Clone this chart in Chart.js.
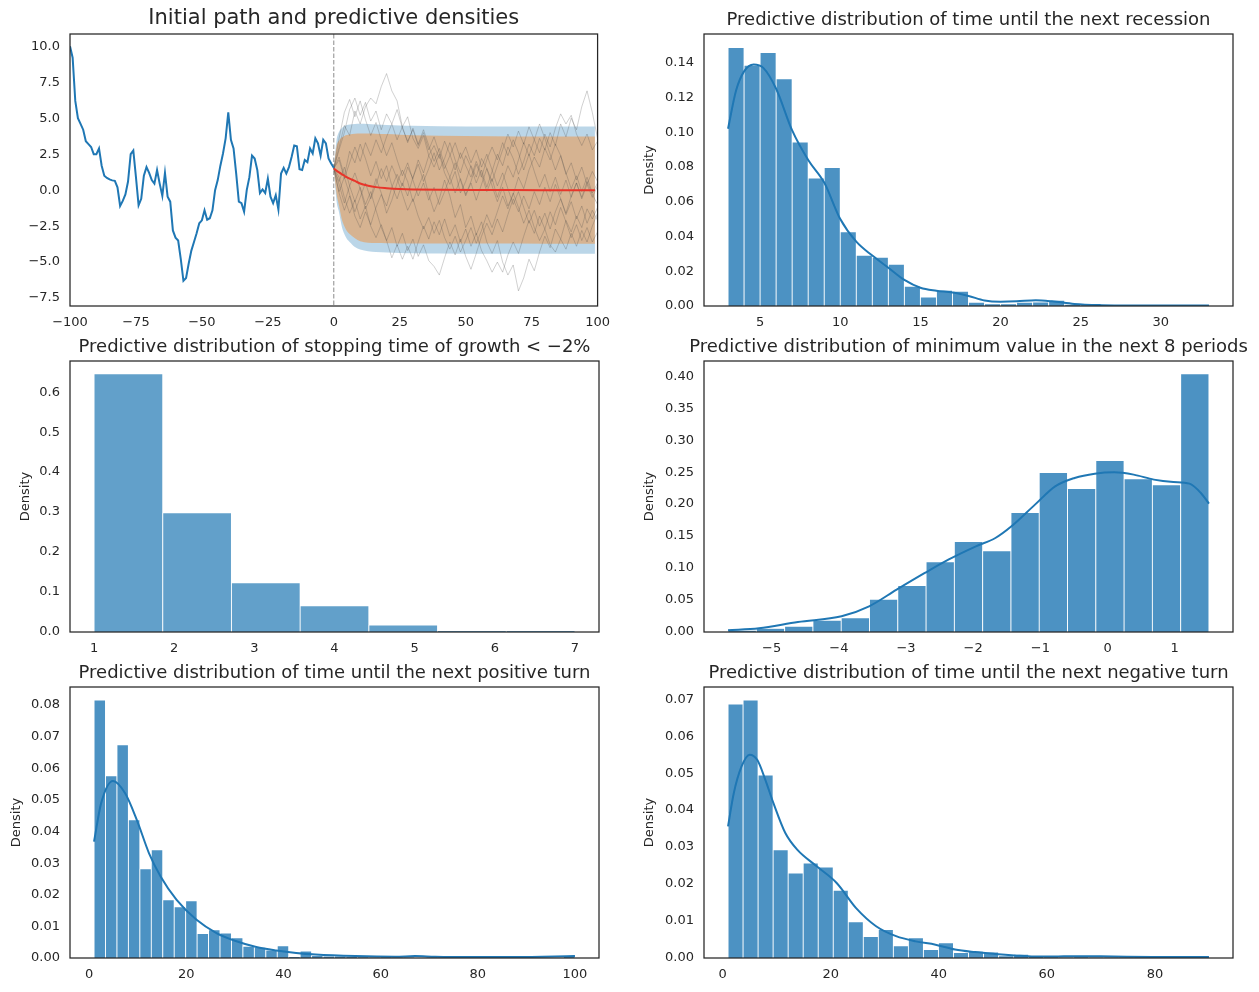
<!DOCTYPE html>
<html lang="en">

<head>
    <meta charset="UTF-8">
    <title>Predictive distributions</title>
    <script src="https://cdn.jsdelivr.net/npm/chart.js"></script>
    <style>
        body {
            margin: 0;
            background: #ffffff;
        }

        .panel {
            position: absolute;
        }
    </style>
</head>

<body>
    <div class="panel" style="left:0px; top:6px; width:619px; height:330px"><canvas id="pathChart"></canvas></div>
    <div class="panel" style="left:620px; top:8px; width:633px; height:328px"><canvas id="recessionChart"></canvas></div>
    <div class="panel" style="left:0px; top:335px; width:619px; height:327px"><canvas id="stoppingChart"></canvas></div>
    <div class="panel" style="left:620px; top:335px; width:633px; height:327px"><canvas id="minimumChart"></canvas></div>
    <div class="panel" style="left:0px; top:661px; width:619px; height:327px"><canvas id="positiveChart"></canvas></div>
    <div class="panel" style="left:620px; top:661px; width:633px; height:327px"><canvas id="negativeChart"></canvas></div>

    <script>
        // ---- initial path (t = -100 .. 0) ----
        const pathTimes = [-100, -99, -98, -97, -96, -95, -94, -93, -92, -91, -90, -89, -88, -87, -86, -85, -84, -83, -82, -81,
            -80, -79, -78, -77, -76, -75, -74, -73, -72, -71, -70, -69, -68, -67, -66, -65, -64, -63, -62, -61,
            -60, -59, -58, -57, -56, -55, -54, -53, -52, -51, -50, -49, -48, -47, -46, -45, -44, -43, -42, -41,
            -40, -39, -38, -37, -36, -35, -34, -33, -32, -31, -30, -29, -28, -27, -26, -25, -24, -23, -22, -21,
            -20, -19, -18, -17, -16, -15, -14, -13, -12, -11, -10, -9, -8, -7, -6, -5, -4, -3, -2, -1, 0];
        const pathValues = [10.0, 9.2, 6.2, 5.0, 4.6, 4.2, 3.4, 3.2, 3.0, 2.5, 2.5, 2.9, 1.7, 1.0, 0.85, 0.75, 0.68, 0.65, 0.2, -1.1,
            -0.75, -0.3, 0.6, 2.5, 2.75, 0.9, -1.05, -0.6, 1.0, 1.6, 1.2, 0.7, 0.45, 1.4, 0.45, -0.4, 1.2, -0.45, -0.8, -2.8,
            -3.3, -3.5, -4.8, -6.3, -6.1, -5.1, -4.2, -3.6, -3.0, -2.3, -2.1, -1.4, -2.05, -1.95, -1.4, 0.0, 0.7, 1.7, 2.55, 3.6,
            5.4, 3.5, 2.9, 1.15, -0.8, -0.9, -1.5, 0.0, 0.9, 2.4, 2.2, 1.4, -0.2, 0.05, -0.2, 0.8, -0.45, -0.9, -0.35, -1.35,
            1.15, 1.55, 1.15, 1.6, 2.3, 3.1, 3.05, 1.45, 1.4, 2.1, 1.95, 2.9, 2.55, 3.6, 3.25, 2.4, 3.5, 3.25, 2.2, 1.85, 1.55];

        // ---- forecast mean and bands ----
        const bandTimes = [0, 1, 2, 3, 4, 5, 6, 8, 10, 13, 16, 20, 25, 30, 40, 60, 80, 99];
        const meanValues = [1.5, 1.36, 1.23, 1.11, 1.0, 0.89, 0.8, 0.64, 0.46, 0.31, 0.21, 0.14, 0.08, 0.05, 0.02, 0.01, 0.0, 0.0];
        const outerHigh = [1.5, 3.4, 4.05, 4.3, 4.45, 4.52, 4.56, 4.6, 4.62, 4.6, 4.57, 4.53, 4.5, 4.47, 4.44, 4.42, 4.42, 4.42];
        const outerLow = [1.5, -0.7, -1.55, -2.5, -3.05, -3.4, -3.6, -3.95, -4.12, -4.25, -4.3, -4.33, -4.36, -4.38, -4.4, -4.42, -4.42, -4.42];
        const innerHigh = [1.5, 3.0, 3.45, 3.65, 3.77, 3.83, 3.87, 3.92, 3.94, 3.94, 3.92, 3.9, 3.85, 3.82, 3.78, 3.74, 3.72, 3.72];
        const innerLow = [1.5, -0.2, -1.1, -2.0, -2.5, -2.85, -3.05, -3.35, -3.55, -3.65, -3.68, -3.69, -3.7, -3.7, -3.7, -3.71, -3.72, -3.72];

        // ---- simulated paths (every 2 periods) ----
        const simTimes = [0, 2, 4, 6, 8, 10, 12, 14, 16, 18, 20, 22, 24, 26, 28, 30, 32, 34, 36, 38, 40, 42, 44, 46, 48, 50,
            52, 54, 56, 58, 60, 62, 64, 66, 68, 70, 72, 74, 76, 78, 80, 82, 84, 86, 88, 90, 92, 94, 96, 98, 100];
        const simPath1 = [1.5, 3.0, 4.5, 3.8, 5.5, 4.6, 5.8, 6.4, 6.0, 7.2, 8.1, 6.9, 6.2, 4.4, 5.1, 3.6, 2.9, 3.8, 2.4, 1.6, 2.5, 1.2, 0.4, 1.3, -0.2, 0.6,
            1.7, 0.9, 2.2, 1.5, 0.3, -0.8, 0.2, -1.1, -0.3, 0.9, 0.1, 1.4, 2.3, 1.6, 2.9, 2.1, 3.2, 2.4, 1.1, 1.9, 0.7, 1.6, 0.4, -0.5, 0.3];
        const simPath2 = [1.5, 0.4, -0.9, 0.3, 1.2, 0.1, -1.3, -0.5, 0.8, -0.2, -1.6, -0.7, 0.5, 1.4, 0.6, -0.8, 0.2, 1.1, -0.3, -1.5, -0.6, 0.7, -0.4, -1.9, -1.0, -2.6,
            -1.8, -3.1, -2.2, -3.6, -4.4, -3.5, -5.0, -5.9, -5.2, -7.0, -6.1, -4.8, -5.6, -4.3, -3.2, -4.0, -2.7, -3.4, -2.1, -2.9, -1.8, -2.6, -1.3, -2.0, -1.2];
        const simPath3 = [1.5, 2.3, 1.0, 2.7, 1.9, 3.2, 2.2, 1.0, 2.0, 0.8, 1.7, 0.3, -0.6, 0.5, -0.4, 0.9, 1.8, 0.6, 1.5, 2.6, 1.4, 2.2, 3.3, 2.1, 1.2, 2.4,
            1.6, 0.5, 1.4, 0.2, 1.3, 2.5, 1.7, 3.0, 2.2, 1.1, 2.0, 3.2, 2.4, 3.6, 2.8, 4.0, 3.1, 4.6, 3.7, 5.0, 4.2, 5.8, 6.9, 5.4, 3.6];
        const simPath4 = [1.5, -0.2, -1.4, -0.4, -1.8, -2.6, -1.5, -2.4, -1.2, -0.3, -1.1, 0.2, 1.1, 0.3, 1.6, 0.8, 2.1, 1.2, 2.4, 3.1, 2.2, 3.4, 2.5, 1.4, 2.6, 1.7,
            0.9, 2.0, 1.1, -0.1, 0.8, -0.5, 0.6, 1.7, 0.9, 2.1, 3.3, 2.4, 3.5, 2.6, 3.9, 3.0, 4.3, 5.3, 4.6, 5.2, 3.9, 3.1, 3.9, 2.8, 3.4];
        const simPath5 = [1.5, 0.9, -0.5, -1.6, -0.7, -2.0, -1.1, -2.5, -3.3, -2.4, -3.5, -2.6, -3.9, -3.0, -4.2, -3.4, -4.6, -3.8, -4.9, -5.3, -5.9, -4.7, -3.6, -4.5, -3.4, -4.6,
            -5.5, -4.4, -3.2, -2.3, -3.1, -2.0, -2.9, -1.7, -0.6, -1.5, -0.4, -1.3, -0.1, -1.0, 0.2, -0.8, 0.4, -0.6, -1.7, -0.8, -2.0, -1.1, -2.3, -1.4, -2.1];
        const simPath6 = [1.5, 3.6, 5.4, 6.3, 5.1, 6.2, 4.9, 3.8, 4.7, 3.5, 2.4, 3.3, 2.1, 1.0, 1.9, 0.7, -0.4, 0.5, -0.7, 0.2, -1.0, -0.1, 0.9, -0.2, 0.8, -0.3,
            0.6, 1.8, 0.9, 2.1, 3.0, 2.1, 3.3, 2.4, 3.5, 2.6, 1.4, 2.5, 1.3, 0.2, 1.1, -0.1, 0.9, -0.3, 0.7, -0.5, 0.5, -0.6, 0.4, 1.3, 0.6];
        const simPath7 = [1.5, 0.6, 1.6, 0.3, -0.8, 0.2, -1.0, -0.1, -1.4, -2.6, -3.5, -4.7, -3.8, -4.8, -3.9, -4.8, -3.6, -2.5, -3.4, -2.2, -3.1, -2.0, -3.2, -2.4, -3.6, -2.7,
            -3.9, -3.0, -4.2, -4.9, -5.7, -5.0, -5.7, -4.5, -3.6, -4.4, -3.2, -2.1, -3.0, -1.8, -2.7, -1.5, -2.4, -1.2, -2.2, -3.3, -2.4, -3.5, -2.6, -3.6, -2.9];
        const simPath8 = [1.5, 2.8, 4.0, 5.6, 6.4, 5.2, 6.1, 4.8, 5.5, 4.2, 5.3, 4.6, 5.6, 4.3, 3.4, 4.2, 3.1, 4.0, 2.8, 3.7, 2.6, 1.5, 2.4, 3.3, 2.2, 3.0,
            1.9, 2.8, 1.6, 2.5, 1.4, 0.3, 1.2, 0.1, -1.0, -0.1, -1.2, -2.3, -1.4, -2.5, -1.6, -2.7, -1.5, -0.6, -1.6, -0.4, 0.5, -0.5, 0.6, -0.3, -1.0];
        const simPath9 = [1.5, -0.1, 0.9, -0.3, -1.5, -0.5, 0.5, -0.6, 0.4, 1.5, 0.6, 1.7, 0.8, -0.3, -1.4, -0.6, -1.8, -2.7, -1.9, -3.0, -2.1, -3.3, -4.1, -3.2, -4.3, -3.5,
            -2.6, -3.7, -2.8, -1.7, -2.6, -1.5, -0.4, -1.3, -0.2, -1.2, -2.3, -1.4, -2.6, -3.5, -2.7, -3.8, -4.3, -3.4, -4.1, -3.0, -3.9, -2.8, -3.6, -2.5, -1.6];
        const simPath10 = [1.5, 2.1, 0.8, 1.9, 3.0, 2.0, 3.3, 2.4, 3.5, 2.6, 3.7, 4.6, 3.5, 4.4, 3.3, 4.3, 3.2, 4.2, 3.1, 2.0, 2.9, 1.8, 0.9, 1.9, 0.7, -0.4,
            0.5, -0.7, 0.4, 1.5, 0.6, 1.7, 2.8, 3.9, 3.0, 4.1, 3.2, 4.4, 3.5, 4.6, 3.6, 2.5, 1.4, 2.4, 1.2, 0.1, 1.0, -0.1, 0.9, -0.2, 0.5];
        const simPaths = [simPath1, simPath2, simPath3, simPath4, simPath5, simPath6, simPath7, simPath8, simPath9, simPath10];

        const pathXTicks = [-100, -75, -50, -25, 0, 25, 50, 75, 100];
        const pathYTicks = [-7.5, -5, -2.5, 0, 2.5, 5, 7.5, 10];

        // ---- time until next recession ----
        const recessionBins = [3, 33];
        const recessionDensity = [0.1487, 0.1385, 0.1458, 0.1308, 0.0944, 0.0737, 0.0796, 0.0427, 0.0292, 0.0281,
            0.0240, 0.0113, 0.0052, 0.0090, 0.0085, 0.0021, 0.0013, 0.0013, 0.0021, 0.0023,
            0.0033, 0.0010, 0.0004, 0.0004, 0.0002, 0.0000, 0.0002, 0.0000, 0.0002, 0.0004];
        const recessionKdeX = [3.0, 3.5, 4.0, 4.6, 5.2, 6.0, 7.0, 8.0, 9.0, 10.0, 11.0, 12.0, 13.0, 14.0, 15.0, 16.0, 17.0, 18.0, 19.0, 20.0,
            21.0, 22.2, 23.2, 24.6, 26.3, 28.0, 30.0, 33.0];
        const recessionKdeY = [0.102, 0.124, 0.135, 0.139, 0.137, 0.125, 0.101, 0.084, 0.071, 0.050, 0.037, 0.029, 0.022, 0.015, 0.0105, 0.0088,
            0.0078, 0.0058, 0.0032, 0.0025, 0.0027, 0.0033, 0.0027, 0.0012, 0.0005, 0.0003, 0.0003, 0.0003];
        const recessionXTicks = [5, 10, 15, 20, 25, 30];
        const recessionYTicks = [0, 0.02, 0.04, 0.06, 0.08, 0.10, 0.12, 0.14];

        // ---- stopping time of growth < -2% ----
        const stoppingBins = [1, 7];
        const stoppingDensity = [0.6458, 0.2983, 0.1233, 0.0658, 0.0175, 0.0033, 0.0033];
        const stoppingXTicks = [1, 2, 3, 4, 5, 6, 7];
        const stoppingYTicks = [0, 0.1, 0.2, 0.3, 0.4, 0.5, 0.6];

        // ---- minimum value in the next 8 periods ----
        const minimumBins = [-5.65, 1.51];
        const minimumDensity = [0.0026, 0.0057, 0.0089, 0.0182, 0.0224, 0.0511, 0.0725, 0.1100, 0.1413, 0.1272,
            0.1867, 0.2492, 0.2242, 0.2680, 0.2398, 0.2304, 0.4040];
        const minimumKdeX = [-5.65, -5.19, -4.61, -3.96, -3.55, -3.14, -2.72, -2.37, -1.96, -1.67, -1.43, -1.08, -0.78, -0.49, -0.19,
            0.10, 0.39, 0.69, 0.98, 1.22, 1.39, 1.51];
        const minimumKdeY = [0.0026, 0.0057, 0.0156, 0.0245, 0.0401, 0.0662, 0.0923, 0.1131, 0.1340, 0.1470, 0.1653, 0.1992, 0.2278,
            0.2409, 0.2476, 0.2497, 0.2461, 0.2383, 0.2346, 0.2320, 0.2174, 0.2007];
        const minimumXTicks = [-5, -4, -3, -2, -1, 0, 1];
        const minimumYTicks = [0, 0.05, 0.10, 0.15, 0.20, 0.25, 0.30, 0.35, 0.40];

        // ---- time until next positive turn ----
        const positiveBins = [1, 100];
        const positiveDensity = [0.0816, 0.0576, 0.0674, 0.0437, 0.0282, 0.0342, 0.0184, 0.0162, 0.0181, 0.0077,
            0.0089, 0.0079, 0.0064, 0.0037, 0.0034, 0.0025, 0.0039, 0.0005, 0.0022, 0.0008,
            0.0006, 0.0006, 0.0004, 0.0002, 0.0001, 0.0002, 0.0001, 0.0001, 0.0000, 0.0001,
            0.0000, 0.0001, 0.0000, 0.0000, 0.0001, 0.0000, 0.0000, 0.0000, 0.0000, 0.0000, 0.0000, 0.0004];
        const positiveKdeX = [1, 2.45, 4.9, 7.4, 9.8, 12.3, 14.7, 18, 22.1, 26.2, 30.3, 34.4, 38.5, 42.6, 46.6, 54.8, 63, 67.1, 71.2, 79.4, 87.6, 100];
        const positiveKdeY = [0.0368, 0.0489, 0.0560, 0.0521, 0.0437, 0.0332, 0.0258, 0.0184, 0.0121, 0.0079, 0.0053, 0.0035, 0.0024,
            0.0016, 0.0011, 0.0006, 0.0004, 0.0006, 0.0004, 0.0003, 0.0003, 0.0006];
        const positiveXTicks = [0, 20, 40, 60, 80, 100];
        const positiveYTicks = [0, 0.01, 0.02, 0.03, 0.04, 0.05, 0.06, 0.07, 0.08];

        // ---- time until next negative turn ----
        const negativeBins = [1, 90];
        const negativeDensity = [0.0687, 0.0698, 0.0495, 0.0293, 0.0230, 0.0257, 0.0246, 0.0183, 0.0098, 0.0058,
            0.0077, 0.0033, 0.0055, 0.0023, 0.0041, 0.0015, 0.0018, 0.0016, 0.0006, 0.0010,
            0.0003, 0.0002, 0.0001, 0.0002, 0.0001, 0.0001, 0.0001, 0.0001, 0.0001, 0.0000, 0.0000, 0.0002];
        const negativeKdeX = [1, 2.05, 3.5, 5.0, 6.4, 7.9, 9.4, 11.6, 13.8, 17.4, 21.1, 24.7, 28.4, 32.1, 35.7, 39.4, 43.0, 46.7,
            50.4, 54.0, 57.7, 61.3, 65.0, 72.3, 79.6, 90];
        const negativeKdeY = [0.0356, 0.0445, 0.0518, 0.0550, 0.0536, 0.0482, 0.0419, 0.0338, 0.0293, 0.0248, 0.0203, 0.0135, 0.0086,
            0.0059, 0.0045, 0.0036, 0.0023, 0.0016, 0.0011, 0.0007, 0.0004, 0.0004, 0.0005, 0.0004, 0.0003, 0.0003];
        const negativeXTicks = [0, 20, 40, 60, 80];
        const negativeYTicks = [0, 0.01, 0.02, 0.03, 0.04, 0.05, 0.06, 0.07];

        const TEXT = '#262626';
        const BLUE = '#1f77b4';
        const FONT = "'DejaVu Sans', sans-serif";

        Chart.defaults.font.family = FONT;
        Chart.defaults.color = TEXT;
        Chart.defaults.animation = false;
        Chart.defaults.plugins.legend.display = false;
        Chart.defaults.plugins.tooltip.enabled = false;
        Chart.defaults.elements.point.radius = 0;

        // box round the plot area, like the axes spines
        Chart.register({
            id: 'frame',
            afterDraw(chart) {
                const { ctx, chartArea: a } = chart;
                ctx.save();
                ctx.strokeStyle = TEXT;
                ctx.lineWidth = 1.25;
                ctx.strokeRect(a.left, a.top, a.right - a.left, a.bottom - a.top);
                ctx.restore();
            }
        });

        // axes title centred over the plot area, not squeezed to its width
        Chart.register({
            id: 'panelTitle',
            afterDraw(chart, args, opts) {
                if (!opts.text) return;
                const { ctx, chartArea: a } = chart;
                ctx.save();
                ctx.fillStyle = TEXT;
                ctx.font = opts.size + 'px ' + FONT;
                ctx.textAlign = 'center';
                ctx.textBaseline = 'middle';
                ctx.fillText(opts.text, (a.left + a.right) / 2, a.top - opts.gap);
                ctx.restore();
            }
        });

        // dashed vertical line at t = 0
        const zeroLine = {
            id: 'zeroLine',
            beforeDatasetsDraw(chart) {
                const { ctx, chartArea: a } = chart;
                const x = chart.scales.x.getPixelForValue(0);
                ctx.save();
                ctx.strokeStyle = '#8c8c8c';
                ctx.lineWidth = 1;
                ctx.setLineDash([4.5, 2]);
                ctx.beginPath();
                ctx.moveTo(x, a.top);
                ctx.lineTo(x, a.bottom);
                ctx.stroke();
                ctx.restore();
            }
        };

        function fmt(digits) {
            return v => (v < 0 ? '\u2212' : '') + Math.abs(v).toFixed(digits);
        }

        function pts(xs, ys) {
            return xs.map((x, i) => ({ x: x, y: ys[i] }));
        }

        function xAxis(min, max, ticks, digits) {
            return {
                type: 'linear', min: min, max: max, offset: false,
                afterBuildTicks: s => { s.ticks = ticks.map(v => ({ value: v })); },
                afterFit: s => { s.height = 30; },
                grid: { display: false, drawTicks: false },
                border: { display: false },
                ticks: { callback: fmt(digits), padding: 9, maxRotation: 0, autoSkip: false, font: { size: 13 } }
            };
        }

        function yAxis(min, max, ticks, digits, width, titlePad) {
            return {
                type: 'linear', min: min, max: max,
                afterBuildTicks: s => { s.ticks = ticks.map(v => ({ value: v })); },
                afterFit: s => { s.width = width; },
                grid: { display: false, drawTicks: false },
                border: { display: false },
                ticks: { callback: fmt(digits), padding: 10, autoSkip: false, font: { size: 13 } },
                title: titlePad == null ? { display: false } : {
                    display: true, text: 'Density', color: TEXT,
                    font: { size: 13 }, padding: { top: titlePad, bottom: 0 }
                }
            };
        }

        function histChart(id, h) {
            const n = h.density.length;
            const w = (h.bins[1] - h.bins[0]) / n;
            const centers = h.density.map((_, i) => h.bins[0] + w * (i + 0.5));
            const datasets = [{
                type: 'bar',
                data: pts(centers, h.density),
                backgroundColor: h.color,
                borderColor: '#ffffff',
                borderWidth: 0.8,
                barPercentage: 1,
                categoryPercentage: 1,
                order: 1
            }];
            if (h.kdeX) {
                datasets.push({
                    type: 'line',
                    data: pts(h.kdeX, h.kdeY),
                    borderColor: BLUE,
                    borderWidth: 2,
                    cubicInterpolationMode: 'monotone',
                    fill: false,
                    order: 0
                });
            }
            return new Chart(document.getElementById(id), {
                type: 'bar',
                data: { datasets: datasets },
                options: {
                    responsive: true,
                    maintainAspectRatio: false,
                    layout: { padding: { left: 0, right: 20, top: h.top, bottom: 0 } },
                    plugins: { panelTitle: { text: h.title, size: 18, gap: 14 } },
                    scales: {
                        x: xAxis(h.xMin, h.xMax, h.xTicks, 0),
                        y: yAxis(0, h.yMax, h.yTicks, h.yDigits, h.yWidth, h.titlePad)
                    }
                }
            });
        }

        // ---- top left: path and predictive densities ----
        const bandLine = { borderColor: 'transparent', borderWidth: 0, cubicInterpolationMode: 'monotone' };
        const pathDatasets = [
            { data: pts(pathTimes, pathValues), borderColor: BLUE, borderWidth: 2, fill: false, order: 0 },
            { data: pts(bandTimes, meanValues), borderColor: '#e8352a', borderWidth: 2, fill: false, cubicInterpolationMode: 'monotone', order: 1 }
        ];
        simPaths.forEach(p => {
            pathDatasets.push({ data: pts(simTimes, p), borderColor: 'rgba(70,70,70,0.25)', borderWidth: 1, fill: false, order: 2 });
        });
        const bandStart = pathDatasets.length;
        pathDatasets.push(Object.assign({ data: pts(bandTimes, outerHigh), fill: false, order: 4 }, bandLine));
        pathDatasets.push(Object.assign({ data: pts(bandTimes, outerLow), fill: bandStart, backgroundColor: 'rgba(31,119,180,0.3)', order: 4 }, bandLine));
        pathDatasets.push(Object.assign({ data: pts(bandTimes, innerHigh), fill: false, order: 3 }, bandLine));
        pathDatasets.push(Object.assign({ data: pts(bandTimes, innerLow), fill: bandStart + 2, backgroundColor: 'rgba(255,127,14,0.4)', order: 3 }, bandLine));

        new Chart(document.getElementById('pathChart'), {
            type: 'line',
            data: { datasets: pathDatasets },
            options: {
                responsive: true,
                maintainAspectRatio: false,
                layout: { padding: { left: 0, right: 20, top: 28, bottom: 0 } },
                plugins: { panelTitle: { text: 'Initial path and predictive densities', size: 21, gap: 15 } },
                scales: {
                    x: xAxis(-100, 100, pathXTicks, 0),
                    y: yAxis(-8.05, 10.85, pathYTicks, 1, 70, null)
                }
            },
            plugins: [zeroLine]
        });

        histChart('recessionChart', {
            title: 'Predictive distribution of time until the next recession', top: 26,
            bins: recessionBins, density: recessionDensity, kdeX: recessionKdeX, kdeY: recessionKdeY,
            color: 'rgba(31,119,180,0.8)',
            xMin: 1.5, xMax: 34.5, xTicks: recessionXTicks,
            yMax: 0.1565, yTicks: recessionYTicks, yDigits: 2, yWidth: 84, titlePad: 22.2
        });

        histChart('stoppingChart', {
            title: 'Predictive distribution of stopping time of growth < \u22122%', top: 26,
            bins: stoppingBins, density: stoppingDensity,
            color: 'rgba(31,119,180,0.7)',
            xMin: 0.7, xMax: 7.3, xTicks: stoppingXTicks,
            yMax: 0.678, yTicks: stoppingYTicks, yDigits: 1, yWidth: 70, titlePad: 18.2
        });

        histChart('minimumChart', {
            title: 'Predictive distribution of minimum value in the next 8 periods', top: 26,
            bins: minimumBins, density: minimumDensity, kdeX: minimumKdeX, kdeY: minimumKdeY,
            color: 'rgba(31,119,180,0.8)',
            xMin: -6.008, xMax: 1.868, xTicks: minimumXTicks,
            yMax: 0.4238, yTicks: minimumYTicks, yDigits: 2, yWidth: 84, titlePad: 22.2
        });

        histChart('positiveChart', {
            title: 'Predictive distribution of time until the next positive turn', top: 26,
            bins: positiveBins, density: positiveDensity, kdeX: positiveKdeX, kdeY: positiveKdeY,
            color: 'rgba(31,119,180,0.8)',
            xMin: -3.95, xMax: 104.95, xTicks: positiveXTicks,
            yMax: 0.0857, yTicks: positiveYTicks, yDigits: 2, yWidth: 70, titlePad: 9.2
        });

        histChart('negativeChart', {
            title: 'Predictive distribution of time until the next negative turn', top: 26,
            bins: negativeBins, density: negativeDensity, kdeX: negativeKdeX, kdeY: negativeKdeY,
            color: 'rgba(31,119,180,0.8)',
            xMin: -3.45, xMax: 94.45, xTicks: negativeXTicks,
            yMax: 0.0733, yTicks: negativeYTicks, yDigits: 2, yWidth: 84, titlePad: 22.2
        });
    </script>
</body>

</html>
